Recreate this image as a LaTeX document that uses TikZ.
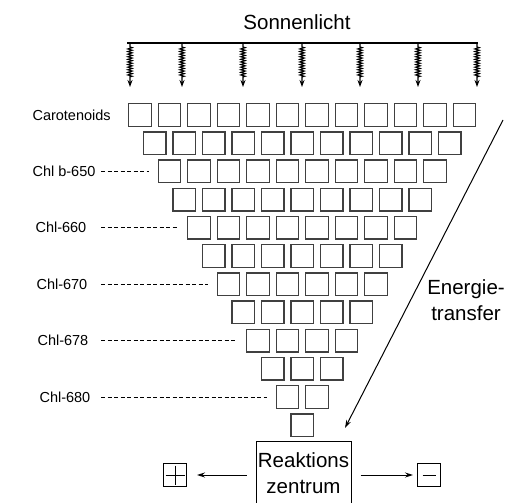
\documentclass[tikz,border=0pt]{standalone}
\usepackage{fontspec}
\setmainfont{Liberation Sans}
\usetikzlibrary{arrows.meta,decorations.pathmorphing}

\begin{document}
\begin{tikzpicture}[x=1pt, y=-1pt,
    pig/.style={draw=black!75, line width=1.4pt, minimum size=22.5pt, inner sep=0pt},
    lbl/.style={anchor=west, font=\fontsize{14.5}{17}\selectfont},
    big/.style={font=\fontsize{20.5}{26}\selectfont},
    leader/.style={dash pattern=on 4pt off 2.5pt, line width=0.7pt},
    ray/.style={line width=1.1pt, decorate, decoration={zigzag, segment length=2.6pt, amplitude=2.2pt, pre length=4pt, post length=9pt}, -{Stealth[length=7pt,width=5pt]}},
    chg/.style={draw, line width=1pt, minimum size=23pt, inner sep=0pt},
    plusbox/.style={chg, path picture={
        \draw[line width=1pt] ([yshift=-2pt]path picture bounding box.north) -- ([yshift=2pt]path picture bounding box.south)
            ([xshift=2pt]path picture bounding box.west) -- ([xshift=-2pt]path picture bounding box.east);}},
    minusbox/.style={chg, path picture={
        \draw[line width=1pt] ([xshift=5pt]path picture bounding box.west) -- ([xshift=-5pt]path picture bounding box.east);}},
    arr/.style={line width=1pt, -{Stealth[length=8pt,width=5pt]}}]
    \useasboundingbox (0,0) rectangle (510,502);

    % light from above
    \node[big] (sun) at (297,22) {Sonnenlicht};
    \coordinate (sl-w) at (127,43);
    \coordinate (sl-e) at (478,43);
    \draw[line width=1.1pt] (sl-w) -- (sl-e);
    \foreach \x in {130,182,243,302,360,418,477}
        \draw[ray] (\x,43) -- (\x,87);

    % pigment triangle
    \foreach \r in {0,...,11} {
        \pgfmathtruncatemacro\n{11-\r}
        \foreach \i in {0,...,\n}
            \node[pig] (b-\r-\i) at ({140+\r*14.75+\i*29.5}, {115+\r*28.2}) {};
    }

    % pigment names
    \coordinate (dstart) at (101,0);
    \foreach \r/\t/\x in {0/Carotenoids/29, 2/Chl b-650/29, 4/Chl-660/32, 6/Chl-670/33, 8/Chl-678/34, 10/Chl-680/36}
        \node[lbl] (lbl-\r) at (\x, {115+\r*28.2}) {\t};
    \foreach \r in {2,4,6,8,10}
        \draw[leader] (lbl-\r.east -| dstart) -- ([xshift=-9pt]b-\r-0.west);

    % energy flow
    \coordinate (et-top) at (503,120);
    \coordinate (et-tip) at (345,428);
    \draw[arr] (et-top) -- (et-tip);
    \node[big, align=center] (et) at (466,300) {Energie-\\transfer};

    \node[draw, line width=1pt, big, align=center, minimum width=95pt, minimum height=64pt, inner sep=0pt, anchor=north] (rz) at (303.5,441) {Reaktions\\zentrum};
    \node[plusbox] (plus) at (175,475) {};
    \node[minusbox] (minus) at (429,475) {};
    \draw[arr, shorten <=9pt, shorten >=10pt] (rz.west |- plus) -- (plus.east);
    \draw[arr, shorten <=9pt, shorten >=4pt] (rz.east |- minus) -- (minus.west);
\end{tikzpicture}
\end{document}
